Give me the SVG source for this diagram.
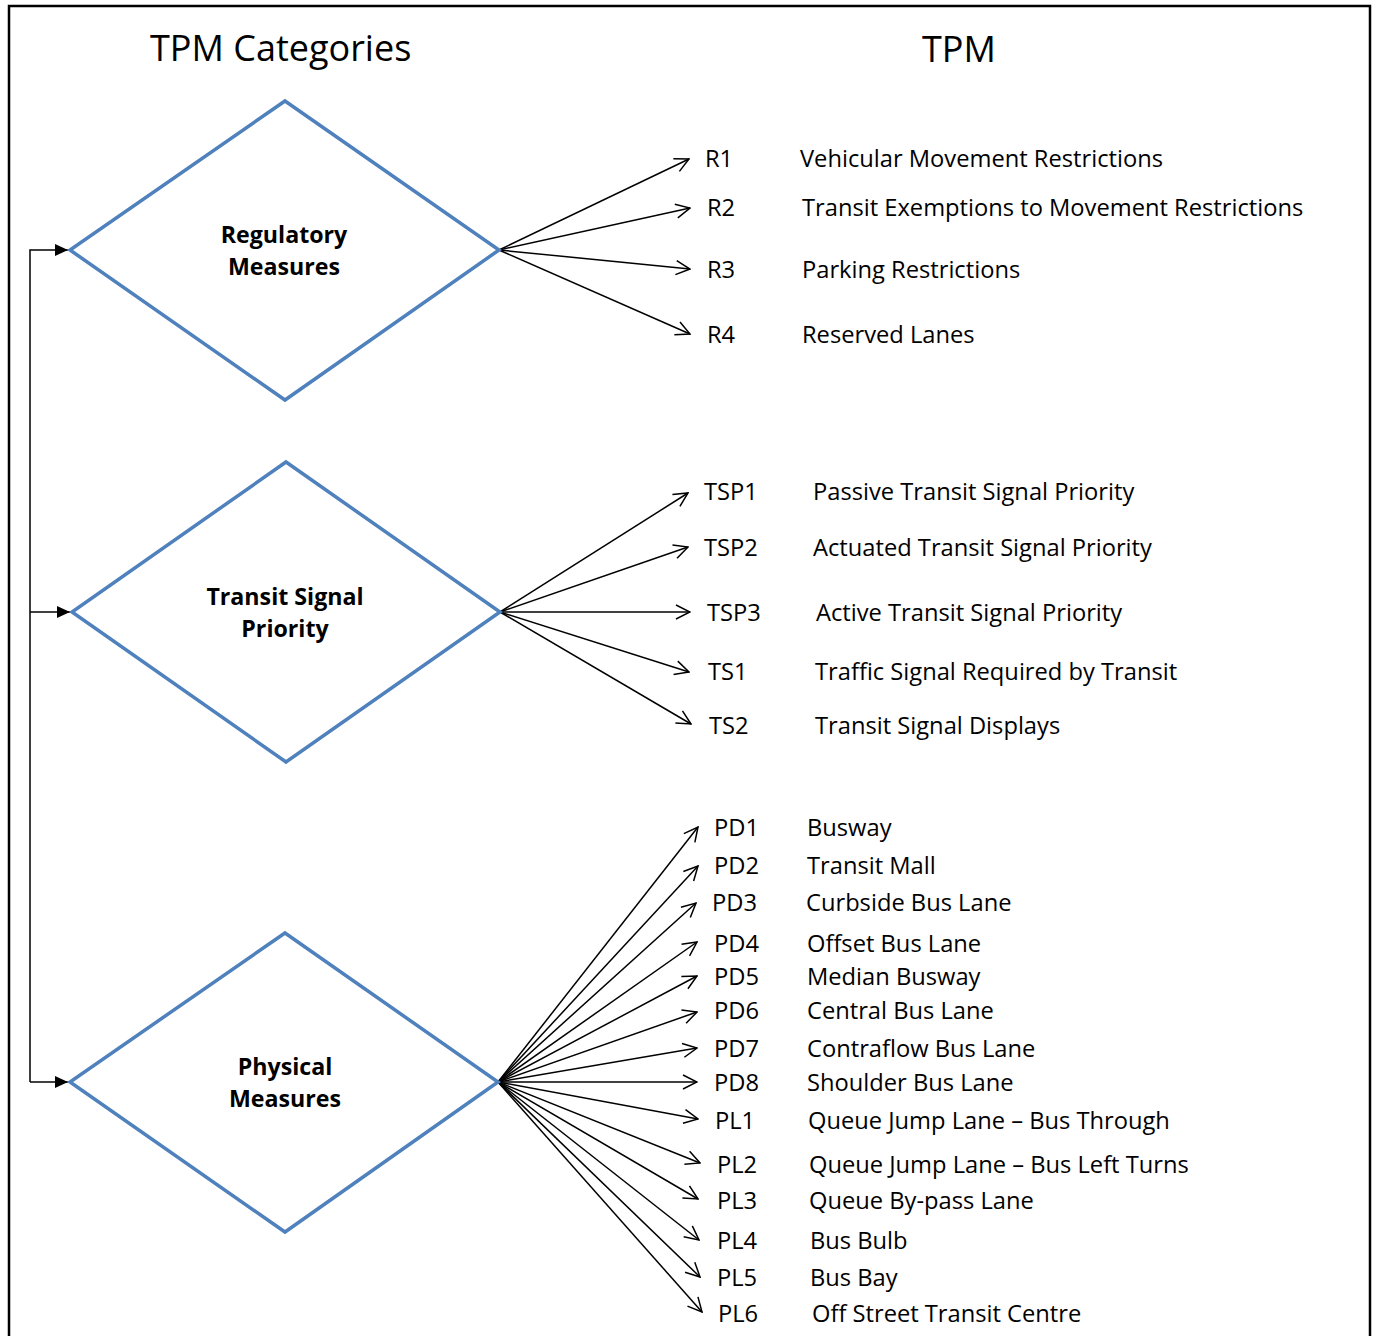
<svg xmlns="http://www.w3.org/2000/svg" width="1379" height="1336" viewBox="0 0 1379 1336">
<style>
.t{font-family:"Open Sans","Noto Sans","Liberation Sans",sans-serif;font-size:23.7px;fill:#000}
.h{font-family:"Open Sans","Noto Sans","Liberation Sans",sans-serif;font-size:36px;fill:#000}
.b{font-family:"Open Sans","Noto Sans","Liberation Sans",sans-serif;font-size:23.2px;font-weight:bold;fill:#000;text-anchor:middle}
.d{fill:#fff;stroke:#4F81BD;stroke-width:3.5}
.c{stroke:#000;stroke-width:1.5;fill:none;marker-end:url(#open)}
.k{stroke:#000;stroke-width:1.5;fill:none}
</style>
<defs>
<marker id="open" markerUnits="userSpaceOnUse" viewBox="0 0 16 16" refX="15" refY="8" markerWidth="16" markerHeight="16" orient="auto">
<path d="M1,1 L15,8 L1,15" fill="none" stroke="#000" stroke-width="1.5"/>
</marker>
<marker id="solid" markerUnits="userSpaceOnUse" viewBox="0 0 13 12" refX="13" refY="6" markerWidth="13" markerHeight="12" orient="auto">
<path d="M0,0 L13,6 L0,12 Z" fill="#000"/>
</marker>
</defs>
<rect width="1379" height="1336" fill="#fff"/>
<path d="M9,1345 V6 H1370 V1345" fill="none" stroke="#000" stroke-width="2.5"/>
<text class="h" x="150" y="61">TPM Categories</text>
<text class="h" x="922" y="62">TPM</text>

<g id="connectors">
<path class="k" d="M30,1082 V250 H68" marker-end="url(#solid)"/>
<path class="k" d="M30,612 H70" marker-end="url(#solid)"/>
<path class="k" d="M30,1082 H68" marker-end="url(#solid)"/>
<line class="c" x1="499" y1="250" x2="689" y2="159"/>
<line class="c" x1="499" y1="250" x2="690" y2="208"/>
<line class="c" x1="499" y1="250" x2="690" y2="269"/>
<line class="c" x1="499" y1="250" x2="690" y2="334"/>
<line class="c" x1="500" y1="612" x2="688" y2="493"/>
<line class="c" x1="500" y1="612" x2="688" y2="547"/>
<line class="c" x1="500" y1="612" x2="690" y2="612"/>
<line class="c" x1="500" y1="612" x2="689" y2="672"/>
<line class="c" x1="500" y1="612" x2="691" y2="724"/>
<line class="c" x1="498" y1="1082" x2="698" y2="827"/>
<line class="c" x1="498" y1="1082" x2="698" y2="866"/>
<line class="c" x1="498" y1="1082" x2="696" y2="903"/>
<line class="c" x1="498" y1="1082" x2="697" y2="942"/>
<line class="c" x1="498" y1="1082" x2="697" y2="976"/>
<line class="c" x1="498" y1="1082" x2="697" y2="1012"/>
<line class="c" x1="498" y1="1082" x2="697" y2="1048"/>
<line class="c" x1="498" y1="1082" x2="697" y2="1082"/>
<line class="c" x1="498" y1="1082" x2="698" y2="1119"/>
<line class="c" x1="498" y1="1082" x2="700" y2="1163"/>
<line class="c" x1="498" y1="1082" x2="698" y2="1199"/>
<line class="c" x1="498" y1="1082" x2="699" y2="1240"/>
<line class="c" x1="498" y1="1082" x2="700" y2="1277"/>
<line class="c" x1="498" y1="1082" x2="702" y2="1312"/>
</g>

<g id="regulatory">
<polygon class="d" points="285,101 499,250 285,400 70,250"/>
<text class="b" x="284" y="243">Regulatory</text>
<text class="b" x="284" y="275">Measures</text>
</g>
<g id="tsp">
<polygon class="d" points="286,462 500,612 286,762 72,612"/>
<text class="b" x="285" y="605">Transit Signal</text>
<text class="b" x="285" y="637">Priority</text>
</g>
<g id="physical">
<polygon class="d" points="285,933 498,1082 285,1232 70,1082"/>
<text class="b" x="285" y="1075">Physical</text>
<text class="b" x="285" y="1107">Measures</text>
</g>

<g id="R1"><text class="t" x="705" y="167">R1</text><text class="t" x="800" y="167">Vehicular Movement Restrictions</text></g>
<g id="R2"><text class="t" x="707" y="216">R2</text><text class="t" x="802" y="216">Transit Exemptions to Movement Restrictions</text></g>
<g id="R3"><text class="t" x="707" y="278">R3</text><text class="t" x="802" y="278">Parking Restrictions</text></g>
<g id="R4"><text class="t" x="707" y="343">R4</text><text class="t" x="802" y="343">Reserved Lanes</text></g>

<g id="TSP1"><text class="t" x="704" y="500">TSP1</text><text class="t" x="813" y="500">Passive Transit Signal Priority</text></g>
<g id="TSP2"><text class="t" x="704" y="556">TSP2</text><text class="t" x="813" y="556">Actuated Transit Signal Priority</text></g>
<g id="TSP3"><text class="t" x="707" y="621">TSP3</text><text class="t" x="816" y="621">Active Transit Signal Priority</text></g>
<g id="TS1"><text class="t" x="708" y="680">TS1</text><text class="t" x="815" y="680">Traffic Signal Required by Transit</text></g>
<g id="TS2"><text class="t" x="709" y="734">TS2</text><text class="t" x="815" y="734">Transit Signal Displays</text></g>

<g id="PD1"><text class="t" x="714" y="836">PD1</text><text class="t" x="807" y="836">Busway</text></g>
<g id="PD2"><text class="t" x="714" y="874">PD2</text><text class="t" x="807" y="874">Transit Mall</text></g>
<g id="PD3"><text class="t" x="712" y="911">PD3</text><text class="t" x="806" y="911">Curbside Bus Lane</text></g>
<g id="PD4"><text class="t" x="714" y="952">PD4</text><text class="t" x="807" y="952">Offset Bus Lane</text></g>
<g id="PD5"><text class="t" x="714" y="985">PD5</text><text class="t" x="807" y="985">Median Busway</text></g>
<g id="PD6"><text class="t" x="714" y="1019">PD6</text><text class="t" x="807" y="1019">Central Bus Lane</text></g>
<g id="PD7"><text class="t" x="714" y="1057">PD7</text><text class="t" x="807" y="1057">Contraflow Bus Lane</text></g>
<g id="PD8"><text class="t" x="714" y="1091">PD8</text><text class="t" x="807" y="1091">Shoulder Bus Lane</text></g>
<g id="PL1"><text class="t" x="715" y="1129">PL1</text><text class="t" x="808" y="1129">Queue Jump Lane – Bus Through</text></g>
<g id="PL2"><text class="t" x="717" y="1173">PL2</text><text class="t" x="809" y="1173">Queue Jump Lane – Bus Left Turns</text></g>
<g id="PL3"><text class="t" x="717" y="1209">PL3</text><text class="t" x="809" y="1209">Queue By-pass Lane</text></g>
<g id="PL4"><text class="t" x="717" y="1249">PL4</text><text class="t" x="810" y="1249">Bus Bulb</text></g>
<g id="PL5"><text class="t" x="717" y="1286">PL5</text><text class="t" x="810" y="1286">Bus Bay</text></g>
<g id="PL6"><text class="t" x="718" y="1322">PL6</text><text class="t" x="812" y="1322">Off Street Transit Centre</text></g>
</svg>
